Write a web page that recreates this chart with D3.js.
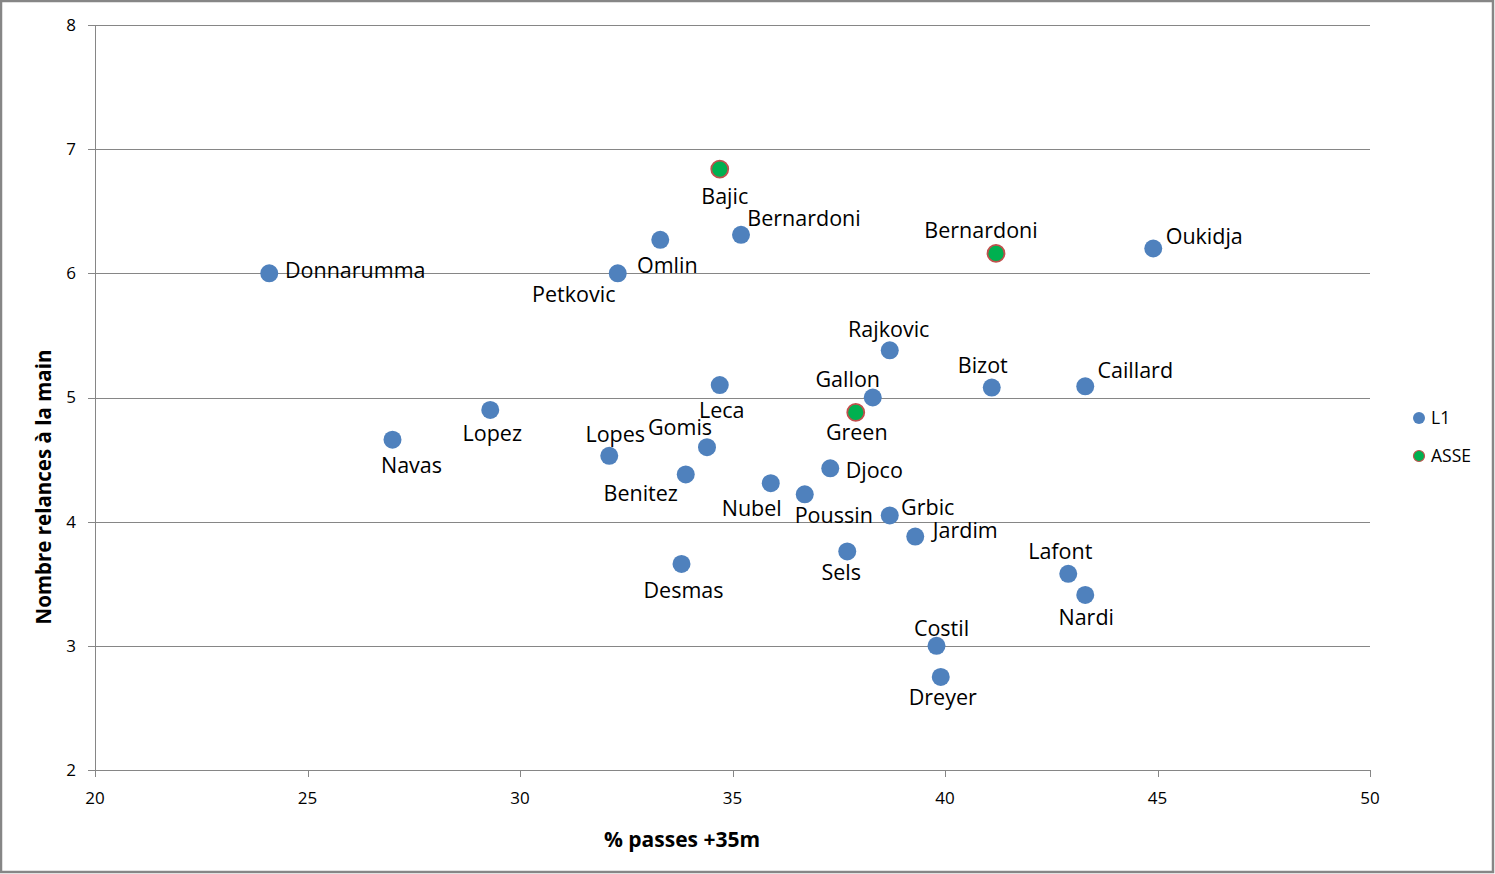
<!DOCTYPE html>
<html>
<head>
<meta charset="utf-8">
<script src="https://cdn.jsdelivr.net/npm/d3@7"></script>
<style>
  html, body { margin: 0; padding: 0; background: #fff; }
  svg { display: block; font-family: "Open Sans", "DejaVu Sans", sans-serif; }
</style>
</head>
<body>
<div id="chart"></div>
<script>
// ===== données =====
const l1Names = ['Donnarumma', 'Bernardoni', 'Omlin', 'Petkovic', 'Oukidja', 'Rajkovic', 'Bizot', 'Caillard',
  'Gallon', 'Leca', 'Lopez', 'Navas', 'Lopes', 'Gomis', 'Benitez', 'Djoco', 'Nubel', 'Poussin',
  'Grbic', 'Jardim', 'Sels', 'Desmas', 'Lafont', 'Nardi', 'Costil', 'Dreyer'];
const l1Pass = [24.1, 35.2, 33.3, 32.3, 44.9, 38.7, 41.1, 43.3,
  38.3, 34.7, 29.3, 27.0, 32.1, 34.4, 33.9, 37.3, 35.9, 36.7,
  38.7, 39.3, 37.7, 33.8, 42.9, 43.3, 39.8, 39.9];
const l1Relances = [6.0, 6.31, 6.27, 6.0, 6.2, 5.38, 5.08, 5.09,
  5.0, 5.1, 4.9, 4.66, 4.53, 4.6, 4.38, 4.43, 4.31, 4.22,
  4.05, 3.88, 3.76, 3.66, 3.58, 3.41, 3.0, 2.75];

const asseNames = ['Bajic', 'Bernardoni', 'Green'];
const assePass = [34.7, 41.2, 37.9];
const asseRelances = [6.84, 6.16, 4.88];

const xTicks = [20, 25, 30, 35, 40, 45, 50];
const yTicks = [2, 3, 4, 5, 6, 7, 8];
const seriesNames = ['L1', 'ASSE'];

// décalages des étiquettes (centre du texte par rapport au point, px)
const l1LabelOffsets = [[86, -3], [63, -16], [7, 26], [-44, 21], [51, -12], [-1, -21], [-9, -22], [50, -16],
  [-25, -18], [2, 25], [2, 24], [19, 26], [6, -21], [-27, -20], [-45, 19], [44, 2], [-19, 25], [29, 21],
  [38, -8], [50, -6], [-6, 21], [2, 27], [-8, -22], [1, 23], [5, -17], [2, 21]];
const asseLabelOffsets = [[5, 27], [-15, -23], [1, 20]];

// ===== dessin =====
const width = 1495, height = 874;
const margin = { left: 95, right: 125, top: 25, bottom: 104 };

const svg = d3.select('#chart').append('svg')
  .attr('width', width)
  .attr('height', height);

// cadre extérieur
svg.append('rect')
  .attr('x', 1).attr('y', 1)
  .attr('width', width - 3).attr('height', height - 3)
  .attr('fill', '#fff')
  .attr('stroke', '#868686')
  .attr('stroke-width', 2.5);

const x = d3.scaleLinear().domain([20, 50]).range([margin.left, width - margin.right]);
const y = d3.scaleLinear().domain([2, 8]).range([height - margin.bottom, margin.top]);

// grille horizontale
svg.append('g')
  .selectAll('line')
  .data(yTicks)
  .join('line')
  .attr('x1', x(20) - 7)
  .attr('x2', x(50))
  .attr('y1', d => Math.round(y(d)) + 0.5)
  .attr('y2', d => Math.round(y(d)) + 0.5)
  .attr('stroke', '#868686')
  .attr('stroke-width', 1);

// axe Y
svg.append('line')
  .attr('x1', Math.round(x(20)) + 0.5).attr('x2', Math.round(x(20)) + 0.5)
  .attr('y1', y(8)).attr('y2', y(2) + 7)
  .attr('stroke', '#868686');

svg.append('g')
  .selectAll('text')
  .data(yTicks)
  .join('text')
  .attr('x', x(20) - 19)
  .attr('y', d => y(d))
  .attr('dy', '0.35em')
  .attr('text-anchor', 'end')
  .attr('font-size', 17)
  .attr('fill', '#000')
  .text(d => d);

// axe X : graduations
svg.append('g')
  .selectAll('line')
  .data(xTicks)
  .join('line')
  .attr('x1', d => Math.round(x(d)) + 0.5)
  .attr('x2', d => Math.round(x(d)) + 0.5)
  .attr('y1', y(2))
  .attr('y2', y(2) + 7)
  .attr('stroke', '#868686');

svg.append('g')
  .selectAll('text')
  .data(xTicks)
  .join('text')
  .attr('x', d => x(d))
  .attr('y', y(2) + 28)
  .attr('dy', '0.35em')
  .attr('text-anchor', 'middle')
  .attr('font-size', 17)
  .attr('fill', '#000')
  .text(d => d);

// titres des axes
svg.append('text')
  .attr('x', 682)
  .attr('y', 840)
  .attr('dy', '0.35em')
  .attr('text-anchor', 'middle')
  .attr('font-size', 21)
  .attr('font-weight', 'bold')
  .text('% passes +35m');

svg.append('text')
  .attr('transform', 'translate(44,487) rotate(-90)')
  .attr('dy', '0.35em')
  .attr('text-anchor', 'middle')
  .attr('font-size', 20.5)
  .attr('font-weight', 'bold')
  .text('Nombre relances à la main');

// séries
const series = [
  { name: 'L1', names: l1Names, xs: l1Pass, ys: l1Relances, offs: l1LabelOffsets, fill: '#4f81bd', stroke: '#4f81bd', sw: 0 },
  { name: 'ASSE', names: asseNames, xs: assePass, ys: asseRelances, offs: asseLabelOffsets, fill: '#00b050', stroke: '#c0504d', sw: 1.8 }
];

series.forEach(s => {
  const pts = s.names.map((n, i) => ({ name: n, px: s.xs[i], py: s.ys[i], off: s.offs[i] }));
  const g = svg.append('g');
  g.selectAll('circle')
    .data(pts)
    .join('circle')
    .attr('cx', d => x(d.px))
    .attr('cy', d => y(d.py))
    .attr('r', s.sw ? 8.5 : 9)
    .attr('fill', s.fill)
    .attr('stroke', s.sw ? s.stroke : 'none')
    .attr('stroke-width', s.sw);
});

// étiquettes au-dessus des points
series.forEach(s => {
  const pts = s.names.map((n, i) => ({ name: n, px: s.xs[i], py: s.ys[i], off: s.offs[i] }));
  svg.append('g')
    .selectAll('text')
    .data(pts)
    .join('text')
    .attr('x', d => x(d.px) + d.off[0])
    .attr('y', d => y(d.py) + d.off[1])
    .attr('dy', '0.35em')
    .attr('text-anchor', 'middle')
    .attr('font-size', 21.5)
    .attr('fill', '#000')
    .text(d => d.name);
});

// légende
const legend = svg.append('g');
seriesNames.forEach((name, i) => {
  const s = series[i];
  const ly = 418 + i * 38;
  legend.append('circle')
    .attr('cx', 1419).attr('cy', ly)
    .attr('r', s.sw ? 5.5 : 6)
    .attr('fill', s.fill)
    .attr('stroke', s.sw ? s.stroke : 'none')
    .attr('stroke-width', s.sw ? 1.2 : 0);
  legend.append('text')
    .attr('x', 1431).attr('y', ly)
    .attr('dy', '0.35em')
    .attr('font-size', 17.5)
    .text(name);
});
</script>
</body>
</html>
